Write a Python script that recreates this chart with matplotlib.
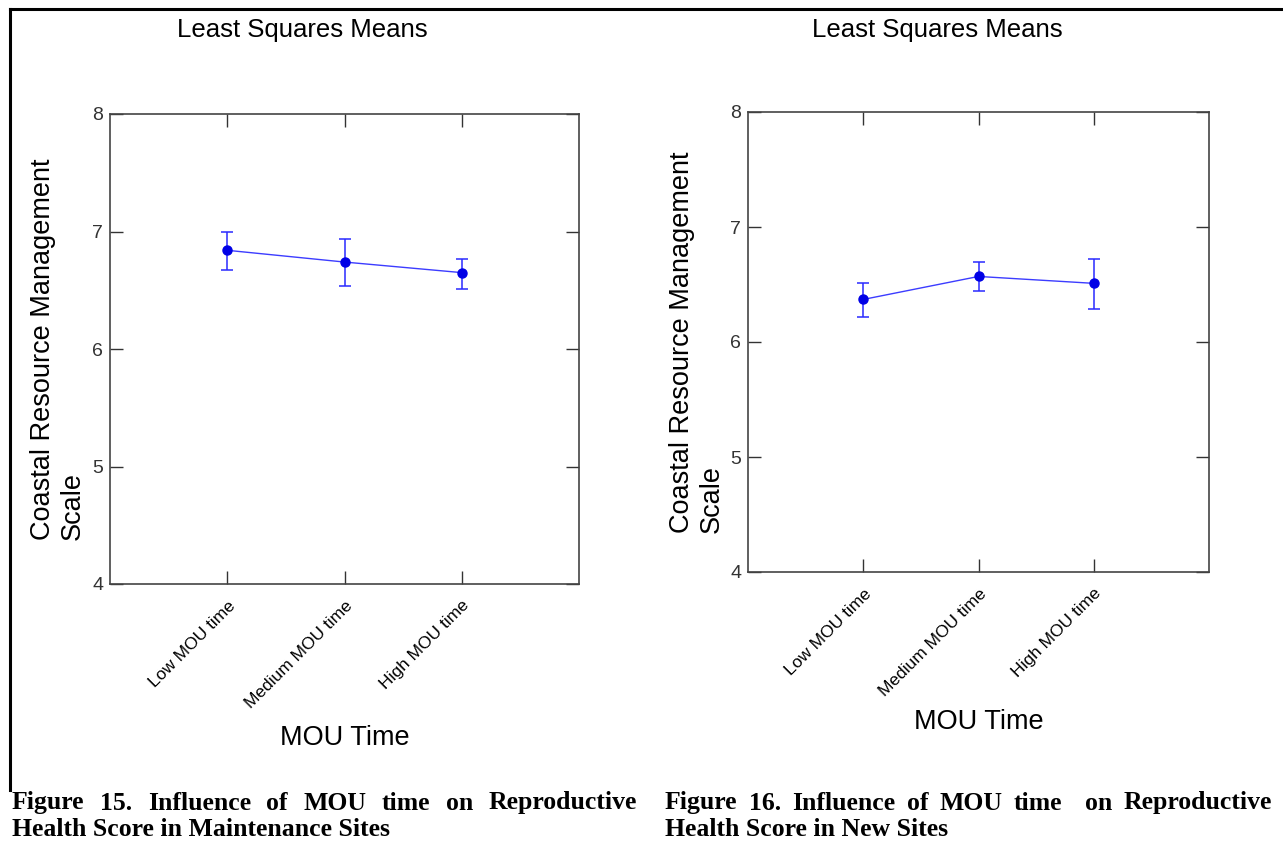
import numpy as np
import matplotlib
matplotlib.use("Agg")
import matplotlib.pyplot as plt
from matplotlib.lines import Line2D

plt.rcParams['font.family'] = ['Liberation Sans', 'DejaVu Sans']

# least squares means with interval ends
groups = ['Low MOU time', 'Medium MOU time', 'High MOU time']

maint_mean = [6.84, 6.74, 6.65]
maint_lo = [6.67, 6.54, 6.51]
maint_hi = [7.00, 6.94, 6.77]

new_mean = [6.37, 6.57, 6.51]
new_lo = [6.22, 6.44, 6.29]
new_hi = [6.51, 6.70, 6.72]

yticks = [4, 5, 6, 7, 8]

captions = [
    ["Figure 15. Influence of MOU time on Reproductive",
     "Health Score in Maintenance Sites"],
    ["Figure 16. Influence of MOU time  on Reproductive",
     "Health Score in New Sites"],
]

W, H = 1283, 848
fig = plt.figure(figsize=(W / 100, H / 100), dpi=100)


def box(x0, y0, x1, y1):
    # pixel box (top-left origin) -> figure fraction rect
    return [x0 / W, 1 - y1 / H, (x1 - x0) / W, (y1 - y0) / H]


ax1 = fig.add_axes(box(110, 114, 579, 584))
ax2 = fig.add_axes(box(748, 112, 1209, 572))


def panel(ax, mean, lo, hi):
    x = np.arange(1, len(groups) + 1)
    mean = np.array(mean)
    err = [mean - np.array(lo), np.array(hi) - mean]
    ax.plot(x, mean, color='#3c3cff', lw=1.0, zorder=2)
    ax.errorbar(x, mean, yerr=err, fmt='none', ecolor='#2a2aff',
                elinewidth=1.1, capsize=4.5, capthick=1.1, zorder=3)
    ax.plot(x, mean, 'o', color='#0000e6', ms=6.5, zorder=4)

    ax.set_xlim(0, 4)
    ax.set_ylim(4, 8)
    ax.set_yticks(yticks)
    ax.set_xticks(x)
    ax.set_xticklabels(groups, rotation=45, ha='right', va='top',
                       rotation_mode='anchor', fontsize=12.5)
    ax.tick_params(axis='both', direction='in', length=9.5, width=1.0,
                   color='#333333', top=True, right=True)
    ax.tick_params(axis='y', labelsize=14, labelcolor='#333333', pad=5)
    ax.tick_params(axis='x', pad=10)
    for s in ax.spines.values():
        s.set_linewidth(1.2)
        s.set_color('#444444')

    ax.set_ylabel('Coastal Resource Management\nScale', fontsize=19.5)
    ax.yaxis.label.set_multialignment('left')
    ax.yaxis.label.set_va('center')
    ax.yaxis.set_label_coords(-0.111, 0.5)

    ax.set_xlabel('MOU Time', fontsize=19.5)
    ax.xaxis.label.set_va('center')
    ax.xaxis.set_label_coords(0.5, -0.327)

    ax.text(0.41, 1.178, 'Least Squares Means', transform=ax.transAxes,
            ha='center', va='center', fontsize=18.5)


panel(ax1, maint_mean, maint_lo, maint_hi)
panel(ax2, new_mean, new_lo, new_hi)

# page frame around the figure cell
fig.add_artist(Line2D([10 / W, 1.0], [1 - 9 / H, 1 - 9 / H],
                      color='black', lw=2.2, transform=fig.transFigure))
fig.add_artist(Line2D([10 / W, 10 / W], [1 - 9 / H, 1 - 790 / H],
                      color='black', lw=2.2, transform=fig.transFigure))

# captions in bold serif; first line justified to the column width
cap_kw = dict(family=['Liberation Serif', 'DejaVu Serif'],
              fontweight='bold', fontsize=18.5, va='center', ha='left')
renderer = fig.canvas.get_renderer()


def justified(x0, x1, y, line):
    tokens = line.split(' ')
    texts = [fig.text(0, y, t, **cap_kw) for t in tokens]
    widths = [t.get_window_extent(renderer).width if t.get_text() else 0
              for t in texts]
    gap = (x1 - x0 - sum(widths)) / (len(tokens) - 1)
    x = x0
    for t, w in zip(texts, widths):
        t.set_x(x / W)
        x += w + gap


for (x0, x1), lines in zip([(12, 637), (665, 1272)], captions):
    justified(x0, x1, 1 - 803 / H, lines[0])
    fig.text(x0 / W, 1 - 830 / H, lines[1], **cap_kw)

fig.savefig('out.png', dpi=100)
